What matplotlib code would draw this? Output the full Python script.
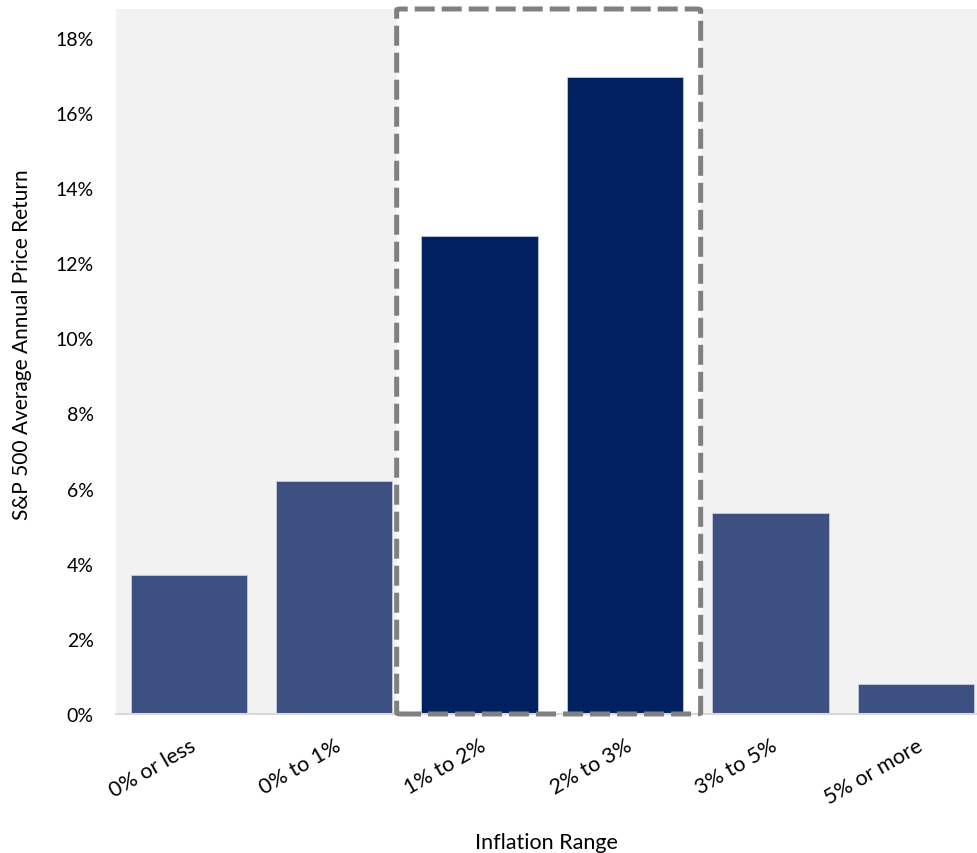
import numpy as np
import matplotlib.pyplot as plt
from matplotlib.patches import FancyBboxPatch
from matplotlib.ticker import FuncFormatter

plt.rcParams['font.family'] = ['Lato', 'DejaVu Sans']

## данные
categories = ['0% or less', '0% to 1%', '1% to 2%', '2% to 3%', '3% to 5%', '5% or more']
returns = [3.70, 6.20, 12.73, 16.96, 5.35, 0.80]
highlight = [False, False, True, True, False, False]

color_base = '#3c5181'
color_hi = '#00205f'

fig = plt.figure(figsize=(9.77, 8.54), dpi=100)
ax = fig.add_axes([0.1187, 0.1628, 0.8813, 0.8255])
ax.set_facecolor('#f2f2f2')

x = np.arange(len(categories))
colors = [color_hi if h else color_base for h in highlight]

## белая зона под рамкой
box_left, box_right = 1.43, 3.52
ax.axvspan(box_left, box_right, color='white', zorder=0.5, lw=0)

ax.bar(x, returns, width=0.8, color=colors, edgecolor='#d0d6e0', linewidth=0.5, zorder=2)

ax.set_xlim(-0.5, 5.42)
ax.set_ylim(0, 18.77)
ax.set_yticks(np.arange(0, 19, 2))
ax.yaxis.set_major_formatter(FuncFormatter(lambda v, p: '%d%%' % v))
ax.set_xticks(x)
ax.set_xticklabels(categories, rotation=30, ha='right', rotation_mode='anchor', fontsize=15.5)
ax.tick_params(axis='y', labelsize=14, length=0, pad=16)
ax.tick_params(axis='x', length=0, pad=15)
for s in ['top', 'right', 'left']:
    ax.spines[s].set_visible(False)
ax.spines['bottom'].set_color('#d9d9d9')
ax.spines['bottom'].set_linewidth(1.5)

ax.set_ylabel('S&P 500 Average Annual Price Return', fontsize=15)
ax.yaxis.set_label_coords(-0.098, 0.525)
ax.set_xlabel('Inflation Range', fontsize=15.5, labelpad=18)

## пунктирная рамка
rect = FancyBboxPatch((box_left, 0), box_right - box_left, 18.77,
                      boxstyle='round,pad=0,rounding_size=0.03',
                      fill=False, edgecolor='#808080', linewidth=3.6,
                      linestyle=(0, (4, 1.4)), clip_on=False, zorder=5)
ax.add_patch(rect)

fig.savefig('out.png', dpi=100)
